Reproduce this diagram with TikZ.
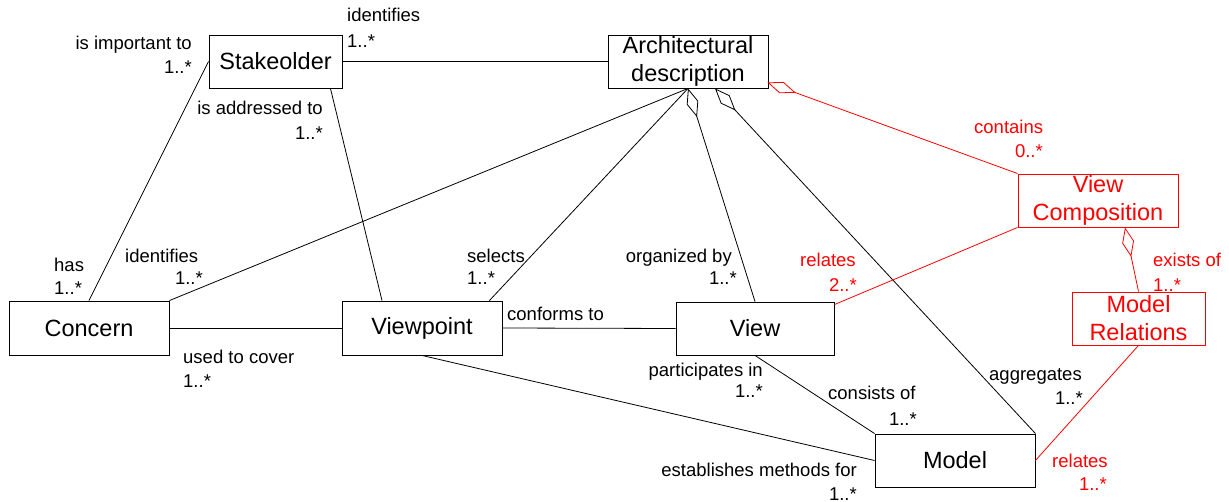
\documentclass[tikz,border=0pt]{standalone}
\usepackage{fontspec}
\setmainfont{Liberation Sans}
\usetikzlibrary{arrows.meta,calc}
\definecolor{relred}{RGB}{255,0,0}
\newcommand\boxfont{\fontsize{23.5}{28}\selectfont}
\newcommand\lblfont{\fontsize{18.5}{22}\selectfont}
\tikzset{
  box/.style={draw, line width=0.9pt, inner sep=0pt, align=center, font=\boxfont},
  lbl/.style={inner sep=0pt, font=\lblfont},
  conn/.style={line width=0.8pt},
  agg/.style={{Diamond[open,length=30pt,width=12pt]}-},
  ext/.style={draw=relred, text=relred},
}
\begin{document}
\begin{tikzpicture}[x=1pt,y=-1pt]
\useasboundingbox (0,0) rectangle (1229,502);

% classes
\node[box, minimum width=133pt, minimum height=53pt] (stake) at (275.5,61.5) {Stakeolder};
\node[box, minimum width=160pt, minimum height=53pt] (arch) at (688,61.5) {Architectural\\description};
\node[box, ext, minimum width=160pt, minimum height=53pt] (vc) at (1098,200.5) {View\\Composition};
\node[box, ext, minimum width=133pt, minimum height=53pt] (mr) at (1138.5,318.5) {Model\\Relations};
\node[box, minimum width=160pt, minimum height=54pt] (concern) at (89,328) {Concern};
\node[box, minimum width=160pt, minimum height=54pt] (viewpoint) at (422,328) {Viewpoint};
\node[box, minimum width=158pt, minimum height=53pt] (view) at (755,328.5) {View};
\node[box, minimum width=160pt, minimum height=53pt] (model) at (955,460.5) {Model};

% associations
\draw[conn] (stake.east) -- (arch.west);
\draw[conn] (stake.west) -- (concern.north);
\draw[conn] ($(stake.south east)+(-12,0)$) -- ($(viewpoint.north)+(-40,0)$);
\draw[conn] (arch.south) -- (concern.north east);
\draw[conn] (arch.south) -- ($(viewpoint.north east)+(-13,0)$);
\draw[conn] (concern.east) -- (viewpoint.west);
\draw[conn] (viewpoint.east) -- (view.west);
\draw[conn] (view.south) -- (model.north west);
\draw[conn] (viewpoint.south) -- (model.west);

% aggregations
\draw[conn, agg] (arch.south) -- (view.north);
\draw[conn, agg] ($(arch.south)+(27,0)$) -- (model.north east);

% view composition extension
\draw[conn, agg, relred] ($(arch.south east)+(-1,-6)$) -- (vc.north west);
\draw[conn, relred] (vc.south west) -- ($(view.north east)+(0,3)$);
\draw[conn, agg, relred] ($(vc.south)+(27,0)$) -- (mr.north);
\draw[conn, relred] (mr.south) -- (model.east);

% role labels
\node[lbl, anchor=base west] (l1) at (347,22) {identifies};
\node[lbl, anchor=base west] (l2) at (347,48) {1..*};
\node[lbl, anchor=base east] (l3) at (192,50) {is important to};
\node[lbl, anchor=base east] (l4) at (192,74) {1..*};
\node[lbl, anchor=base east] (l5) at (323,115) {is addressed to};
\node[lbl, anchor=base east] (l6) at (323,140) {1..*};
\node[lbl, anchor=base west] (l7) at (54,272) {has};
\node[lbl, anchor=base west] (l8) at (54,295) {1..*};
\node[lbl, anchor=base west] (l9) at (125,263) {identifies};
\node[lbl, anchor=base east] (l10) at (203,285) {1..*};
\node[lbl, anchor=base west] (l11) at (183,364) {used to cover};
\node[lbl, anchor=base west] (l12) at (183,388) {1..*};
\node[lbl, anchor=base west] (l13) at (467,263) {selects};
\node[lbl, anchor=base west] (l14) at (467,285) {1..*};
\node[lbl, anchor=base east] (l15) at (732,263) {organized by};
\node[lbl, anchor=base east] (l16) at (737,285) {1..*};
\node[lbl, anchor=base west] (l17) at (507,321) {conforms to};
\node[lbl, anchor=base east] (l18) at (763,377) {participates in};
\node[lbl, anchor=base east] (l19) at (763,398) {1..*};
\node[lbl, anchor=base west] (l20) at (828,400) {consists of};
\node[lbl, anchor=base east] (l21) at (917,425) {1..*};
\node[lbl, anchor=base west] (l22) at (989,381) {aggregates};
\node[lbl, anchor=base east] (l23) at (1083,405) {1..*};
\node[lbl, anchor=base east] (l24) at (857,476) {establishes methods for};
\node[lbl, anchor=base east] (l25) at (857,500) {1..*};

\node[lbl, text=relred, anchor=base west] (r1) at (974,134) {contains};
\node[lbl, text=relred, anchor=base east] (r2) at (1043,158) {0..*};
\node[lbl, text=relred, anchor=base west] (r3) at (800,267) {relates};
\node[lbl, text=relred, anchor=base east] (r4) at (857,292) {2..*};
\node[lbl, text=relred, anchor=base west] (r5) at (1153,267) {exists of};
\node[lbl, text=relred, anchor=base west] (r6) at (1153,292) {1..*};
\node[lbl, text=relred, anchor=base west] (r7) at (1052,467) {relates};
\node[lbl, text=relred, anchor=base east] (r8) at (1107,490) {1..*};
\end{tikzpicture}
\end{document}
